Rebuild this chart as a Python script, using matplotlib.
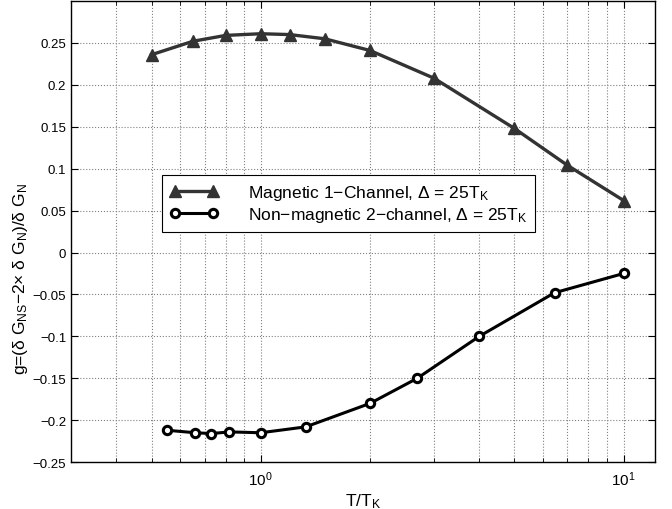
import matplotlib
matplotlib.use('Agg')
import matplotlib.pyplot as plt
from matplotlib.ticker import LogLocator, NullFormatter

plt.rcParams['font.family'] = ['Liberation Sans', 'DejaVu Sans']
plt.rcParams['mathtext.fontset'] = 'custom'
plt.rcParams['mathtext.rm'] = 'Liberation Sans'
plt.rcParams['mathtext.it'] = 'Liberation Sans'

#%%
# Data
t_mag = [0.5, 0.65, 0.8, 1.0, 1.2, 1.5, 2.0, 3.0, 5.0, 7.0, 10.0]
g_mag = [0.236, 0.252, 0.259, 0.261, 0.260, 0.255, 0.241, 0.208, 0.148, 0.104, 0.062]

t_nonmag = [0.55, 0.66, 0.73, 0.82, 1.0, 1.33, 2.0, 2.7, 4.0, 6.45, 10.0]
g_nonmag = [-0.212, -0.215, -0.216, -0.214, -0.215, -0.208, -0.180, -0.150, -0.100, -0.048, -0.025]

yticks = [0.25, 0.2, 0.15, 0.1, 0.05, 0, -0.05, -0.1, -0.15, -0.2, -0.25]
ytick_labels = ['0.25', '0.2', '0.15', '0.1', '0.05', '0', '\u22120.05', '\u22120.1',
                '\u22120.15', '\u22120.2', '\u22120.25']

label_mag = 'Magnetic 1\u2212Channel, $\\Delta$ = 25T$_{\\rm K}$'
label_nonmag = 'Non\u2212magnetic 2\u2212channel, $\\Delta$ = 25T$_{\\rm K}$'

#%%
fig = plt.figure(figsize=(6.72, 5.10), dpi=100)
ax = fig.add_axes([0.1057, 0.092, 0.869, 0.904])

ax.plot(t_mag, g_mag, color='#333333', lw=2.4, marker='^', ms=8.5,
        mfc='#333333', mec='#333333', label=label_mag)
ax.plot(t_nonmag, g_nonmag, color='black', lw=2.2, marker='o', ms=6,
        mfc='white', mec='black', mew=2.2, label=label_nonmag)

ax.set_xscale('log')
ax.set_xlim(0.3, 12.2)
ax.set_ylim(-0.25, 0.30)
ax.set_yticks(yticks)
ax.set_yticklabels(ytick_labels)
ax.xaxis.set_minor_locator(LogLocator(base=10, subs=range(2, 10)))
ax.xaxis.set_minor_formatter(NullFormatter())

ax.grid(True, which='major', axis='both', linestyle=':', color='0.5', lw=0.8)
ax.grid(True, which='minor', axis='x', linestyle=':', color='0.5', lw=0.8)

ax.tick_params(which='both', direction='in', top=True, right=True, labelsize=9.5)
ax.tick_params(axis='x', which='major', labelsize=11, pad=5)
ax.tick_params(which='major', length=5)
ax.tick_params(which='minor', length=3)
for s in ax.spines.values():
    s.set_linewidth(1.0)

ax.set_xlabel('T/T$_{\\rm K}$', fontsize=12.5, labelpad=3)
ax.set_ylabel('g=($\\delta$ G$_{\\rm NS}$$-$2$\\times$ $\\delta$ G$_{\\rm N}$)/$\\delta$ G$_{\\rm N}$',
              fontsize=12.5)
ax.yaxis.set_label_coords(-0.07, 0.40)

leg = ax.legend(loc='upper left', bbox_to_anchor=(0.156, 0.623), fontsize=12.5,
                frameon=True, fancybox=False, edgecolor='black', framealpha=1,
                numpoints=2, handlelength=2.8, handletextpad=1.7, borderpad=0.45,
                labelspacing=0.2, borderaxespad=0)
leg.get_frame().set_linewidth(0.8)

fig.savefig('out.png', dpi=100)
